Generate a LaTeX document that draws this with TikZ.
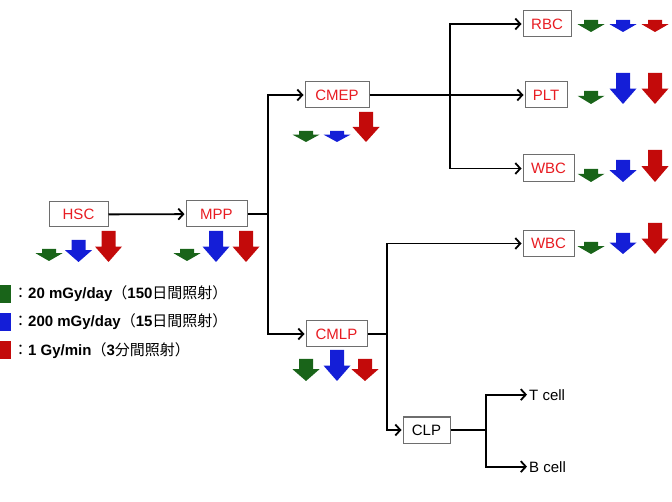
\documentclass[tikz,border=0pt]{standalone}
\usepackage{fontspec}
\setmainfont{Liberation Sans}
\newfontfamily\jpfont{Noto Sans CJK JP}
\usepackage{tikz}
\usetikzlibrary{arrows.meta}
\definecolor{dosegreen}{RGB}{25,100,25}
\definecolor{doseblue} {RGB}{20, 30,215}
\definecolor{dosered}  {RGB}{195, 10, 10}
\definecolor{cellred}  {RGB}{232, 28, 34}
\definecolor{boxgray}  {RGB}{110,110,110}

%% block arrow: x centre, bottom y, height, colour
\newcommand{\dosearrow}[4]{%
  \pgfmathsetmacro{\headh}{0.4*#3+3}%
  \fill[#4] (#1-7,#2-#3) -- (#1+7,#2-#3) -- (#1+7,#2-\headh) -- (#1+13.5,#2-\headh)
    -- (#1,#2) -- (#1-13.5,#2-\headh) -- (#1-7,#2-\headh) -- cycle;}

\begin{document}
\begin{tikzpicture}[
  x=1pt,y=-1pt,
  every node/.style={font=\fontsize{15}{18}\selectfont},
  cell/.style={draw=boxgray,line width=1pt,fill=white,text=cellred,
               inner sep=0pt,minimum height=26pt},
  link/.style={line width=1.8pt,-{Straight Barb[length=5pt,width=11pt]},shorten >=1pt},
  line/.style={line width=1.8pt},
  legend/.style={anchor=base west,inner sep=0pt,font=\fontsize{15}{18}\selectfont\bfseries},
]
\useasboundingbox (0,0) rectangle (672,502);

%% Cell boxes
\node[cell,minimum width=59pt,minimum height=25pt] (hsc) at (78.5,214.5) {HSC};
\node[cell,minimum width=61pt] (mpp)  at (216.5,214) {MPP};
\node[cell,minimum width=64pt] (cmep) at (337,95)    {CMEP};
\node[cell,minimum width=61pt] (cmlp) at (336.5,334) {CMLP};
\node[cell,minimum width=48pt] (rbc)  at (547,24)    {RBC};
\node[cell,minimum width=42pt] (plt)  at (546,95)    {PLT};
\node[cell,minimum width=51pt,minimum height=27pt] (wbca) at (548.5,168.5) {WBC};
\node[cell,minimum width=51pt] (wbcb) at (548.5,243.5) {WBC};
\node[cell,minimum width=47pt,text=black] (clp) at (426.5,430) {CLP};
\node[anchor=base west,inner sep=0pt] (tcell) at (529,400) {T cell};
\node[anchor=base west,inner sep=0pt] (bcell) at (529,472) {B cell};

%% Connectors
\draw[link] (hsc) -- (mpp);
\draw[line] (mpp.east) -- (268,214) coordinate (jmpp);
\draw[link] (jmpp) |- (cmep);
\draw[link] (jmpp) |- (cmlp);
\draw[link] (cmep) -- (plt);
\coordinate (jcmep) at (450,95);
\draw[link] (jcmep) |- (rbc);
\draw[link] (jcmep) |- (wbca);
\draw[line] (cmlp.east) -- (387,334) coordinate (jcmlp);
\draw[link] (jcmlp) |- (wbcb);
\draw[link] (jcmlp) |- (clp);
\draw[line] (clp.east) -- (486,430) coordinate (jclp);
\draw[link] (jclp) |- ([xshift=-1pt]tcell.west);
\draw[link] (jclp) |- ([xshift=-1pt]bcell.west);

%% Dose arrows
\dosearrow{49}{261}{12}{dosegreen}
\dosearrow{78.5}{262}{22}{doseblue}
\dosearrow{108.5}{262}{31}{dosered}

\dosearrow{187}{261}{12}{dosegreen}
\dosearrow{216}{262}{31}{doseblue}
\dosearrow{246}{262}{31}{dosered}

\dosearrow{306}{142}{11}{dosegreen}
\dosearrow{337}{142}{11}{doseblue}
\dosearrow{366}{142}{30}{dosered}

\dosearrow{306}{381}{22}{dosegreen}
\dosearrow{337}{381}{31}{doseblue}
\dosearrow{365}{381}{22}{dosered}

\dosearrow{591}{32}{12}{dosegreen}
\dosearrow{623}{32}{12}{doseblue}
\dosearrow{655}{32}{12}{dosered}

\dosearrow{591}{104}{13}{dosegreen}
\dosearrow{623}{104}{31}{doseblue}
\dosearrow{655}{104}{31}{dosered}

\dosearrow{591}{182}{13}{dosegreen}
\dosearrow{623}{182}{22}{doseblue}
\dosearrow{655}{182}{32}{dosered}

\dosearrow{591}{254}{12}{dosegreen}
\dosearrow{623}{254}{21}{doseblue}
\dosearrow{655}{254}{31}{dosered}

%% Legend
\fill[dosegreen] (0,285) rectangle (11,303);
\fill[doseblue]  (0,313) rectangle (11,331);
\fill[dosered]   (0,341) rectangle (11,359);
\node[legend] (legg) at (13,299) {{\mdseries\jpfont ：}20 mGy/day{\mdseries\jpfont （}150{\mdseries\jpfont 日間照射）}};
\node[legend] (legb) at (13,327) {{\mdseries\jpfont ：}200 mGy/day{\mdseries\jpfont （}15{\mdseries\jpfont 日間照射）}};
\node[legend] (legr) at (13,356) {{\mdseries\jpfont ：}1 Gy/min{\mdseries\jpfont （}3{\mdseries\jpfont 分間照射）}};

\end{tikzpicture}
\end{document}
